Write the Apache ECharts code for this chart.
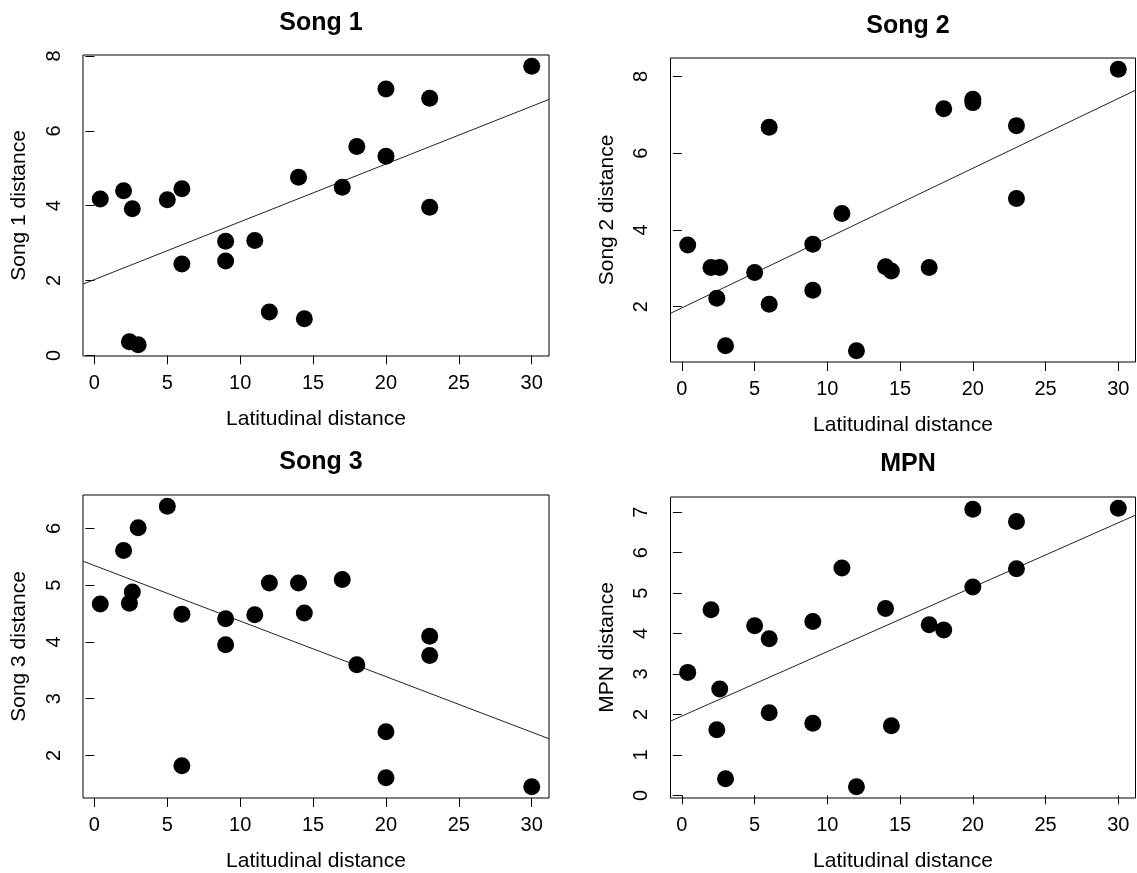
<!DOCTYPE html>
<html><head><meta charset="utf-8">
<script src="https://cdn.jsdelivr.net/npm/echarts@6/dist/echarts.min.js"></script>
<style>html,body{margin:0;padding:0;background:#fff}#c{width:1137px;height:873px}</style>
</head><body><div id="c"></div>
<script>
// ---- data ----
const latitude = [0.4, 2, 2.4, 2.6, 3, 5, 6, 6, 9, 9, 11, 12, 14, 14.4, 17, 18, 20, 20, 23, 23, 30];
const song1 = [4.18, 4.40, 0.36, 3.92, 0.28, 4.16, 4.45, 2.44, 3.05, 2.52, 3.07, 1.16, 4.76, 0.98, 4.49, 5.58, 7.12, 5.32, 6.87, 3.96, 7.73];
const song2 = [3.61, 3.02, 2.22, 3.02, 0.98, 2.89, 6.68, 2.06, 3.63, 2.43, 4.43, 0.85, 3.04, 2.93, 3.02, 7.16, 7.41, 7.32, 6.72, 4.82, 8.19];
const song3 = [4.67, 5.61, 4.68, 4.88, 6.01, 6.39, 4.49, 1.82, 4.41, 3.95, 4.48, 5.04, 5.04, 4.51, 5.10, 3.60, 2.42, 1.61, 4.10, 3.76, 1.45];
const mpn   = [3.04, 4.59, 1.62, 2.63, 0.41, 4.19, 3.87, 2.04, 4.30, 1.78, 5.62, 0.21, 4.62, 1.72, 4.22, 4.09, 7.07, 5.15, 6.77, 5.60, 7.10];

const xTicks = [0, 5, 10, 15, 20, 25, 30];
const song1Ticks = [0, 2, 4, 6, 8];
const song2Ticks = [2, 4, 6, 8];
const song3Ticks = [2, 3, 4, 5, 6];
const mpnTicks = [0, 1, 2, 3, 4, 5, 6, 7];

const titles = ['Song 1', 'Song 2', 'Song 3', 'MPN'];
const yNames = ['Song 1 distance', 'Song 2 distance', 'Song 3 distance', 'MPN distance'];
const xName = 'Latitudinal distance';

// ---- helpers ----
function rRange(v) { // R default axis range: data range extended by 4%
  const mn = Math.min(...v), mx = Math.max(...v), d = (mx - mn) * 0.04;
  return [mn - d, mx + d];
}
function lsFit(x, y) {
  const n = x.length;
  const mx = x.reduce((a, b) => a + b, 0) / n;
  const my = y.reduce((a, b) => a + b, 0) / n;
  let sxy = 0, sxx = 0;
  for (let i = 0; i < n; i++) { sxy += (x[i] - mx) * (y[i] - my); sxx += (x[i] - mx) ** 2; }
  const b = sxy / sxx;
  return [my - b * mx, b];
}

const ys = [song1, song2, song3, mpn];
const yTickSets = [song1Ticks, song2Ticks, song3Ticks, mpnTicks];
const boxes = [
  {left: 83, top: 55, width: 466, height: 301},
  {left: 670.5, top: 58, width: 465, height: 304},
  {left: 83, top: 495, width: 466, height: 303},
  {left: 670.5, top: 497, width: 465, height: 302}
];
const titleTop = [6, 9, 445, 447];

const FONT = 'Liberation Sans, Arial, Helvetica, sans-serif';
const xr = rRange(latitude);

const option = {
  animation: false,
  backgroundColor: '#fff',
  title: [], grid: [], xAxis: [], yAxis: [], series: []
};

for (let i = 0; i < 4; i++) {
  const b = boxes[i];
  const yr = rRange(ys[i]);
  option.title.push({
    text: titles[i], left: b.left + b.width / 2, top: titleTop[i], textAlign: 'center',
    textStyle: {fontSize: 25, fontWeight: 'bold', color: '#000', fontFamily: FONT}
  });
  option.grid.push({
    left: b.left, top: b.top, width: b.width, height: b.height,
    show: true, borderColor: '#000', borderWidth: 1, backgroundColor: 'transparent'
  });
  option.xAxis.push({
    gridIndex: i, type: 'value', min: xr[0], max: xr[1],
    name: xName, nameLocation: 'middle', nameGap: 53,
    nameTextStyle: {fontSize: 21, color: '#000', fontFamily: FONT},
    axisLine: {show: false},
    axisTick: {show: true, inside: false, length: 9, customValues: xTicks, lineStyle: {color: '#000', width: 1}},
    axisLabel: {show: true, customValues: xTicks, margin: 17, fontSize: 20, color: '#000', fontFamily: FONT},
    splitLine: {show: false}
  });
  option.yAxis.push({
    gridIndex: i, type: 'value', min: yr[0], max: yr[1],
    name: yNames[i], nameLocation: 'middle', nameGap: 53, nameRotate: 90,
    nameTextStyle: {fontSize: 21, color: '#000', fontFamily: FONT},
    axisLine: {show: false},
    axisTick: {show: true, inside: false, length: 9, customValues: yTickSets[i], lineStyle: {color: '#000', width: 1}},
    axisLabel: {show: true, customValues: yTickSets[i], rotate: 90, margin: 19, fontSize: 20, color: '#000', fontFamily: FONT},
    splitLine: {show: false}
  });
  option.series.push({
    type: 'scatter', xAxisIndex: i, yAxisIndex: i,
    symbol: 'circle', symbolSize: 17,
    itemStyle: {color: '#000', opacity: 1},
    emphasis: {disabled: true},
    data: latitude.map((x, k) => [x, ys[i][k]]),
    z: 3
  });
  const [a, s] = lsFit(latitude, ys[i]);
  option.series.push({
    type: 'line', xAxisIndex: i, yAxisIndex: i, clip: true,
    showSymbol: false, symbol: 'none', silent: true,
    lineStyle: {color: '#222', width: 1},
    data: [[xr[0], a + s * xr[0]], [xr[1], a + s * xr[1]]],
    z: 2
  });
}

const chart = echarts.init(document.getElementById('c'), null, {renderer: 'canvas'});
chart.setOption(option);
</script>
</body></html>
